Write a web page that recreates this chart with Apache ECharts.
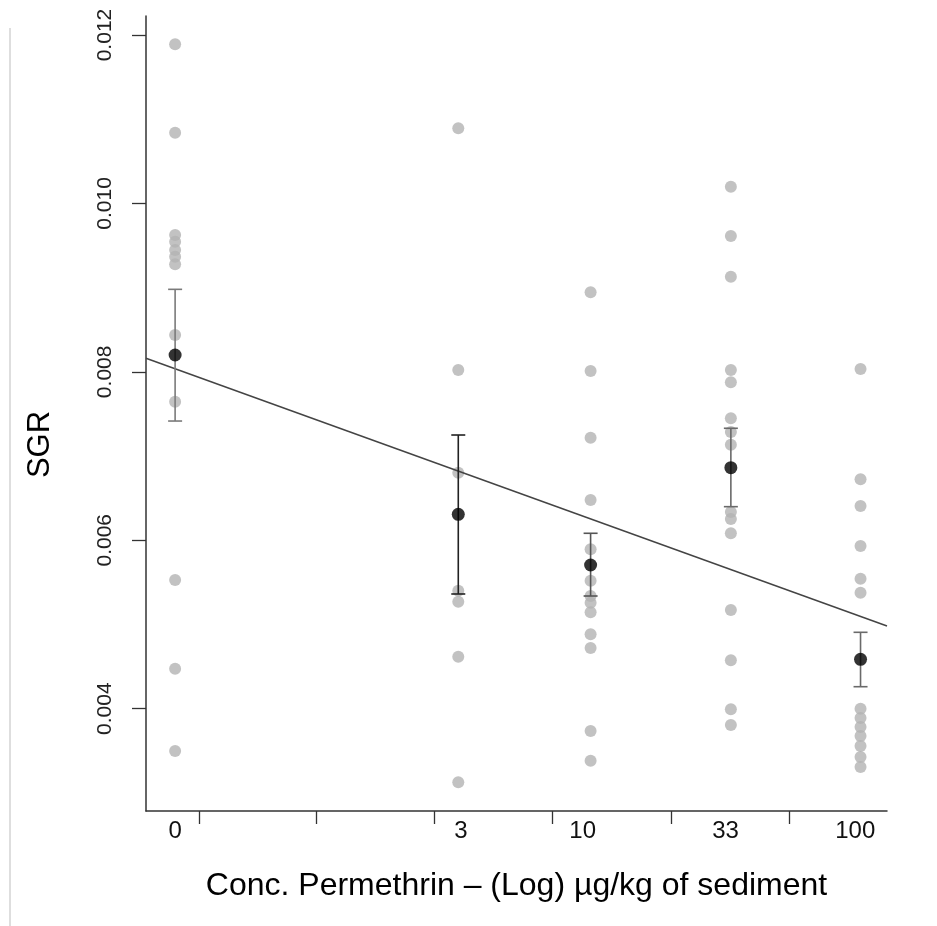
<!DOCTYPE html>
<html>
<head>
<meta charset="utf-8">
<script src="https://cdn.jsdelivr.net/npm/echarts@6/dist/echarts.min.js"></script>
<style>
html,body{margin:0;padding:0;background:#fff;}
#chart{width:937px;height:926px;}
</style>
</head>
<body>
<div id="chart"></div>
<script>
// ---- data ----
const concLabels = ['0', '3', '10', '33', '100'];
// plotting position of each concentration group on the (log) x scale
const colPos = [-0.59, 0.48, 0.98, 1.51, 2.0];
// positions of the tick labels and of the tick marks on the same scale
const labelPos = [-0.59, 0.49, 0.95, 1.49, 1.98];
const tickPos = [-0.50, -0.057, 0.389, 0.836, 1.283, 1.729];
const yTicks = [0.004, 0.006, 0.008, 0.010, 0.012];

const sgrConc0 = [0.01189, 0.01084, 0.009625, 0.009545, 0.009447, 0.009367, 0.009277, 0.008438, 0.007645, 0.005528, 0.004475, 0.003497];
const sgrConc3 = [0.010892, 0.008022, 0.006802, 0.005401, 0.00527, 0.004617, 0.003126];
const sgrConc10 = [0.008944, 0.00801, 0.007218, 0.006478, 0.005893, 0.00552, 0.005338, 0.005259, 0.005144, 0.004883, 0.004721, 0.003735, 0.003382];
const sgrConc33 = [0.010199, 0.009613, 0.00913, 0.008022, 0.007876, 0.007448, 0.007286, 0.007135, 0.006336, 0.006252, 0.006083, 0.005172, 0.004574, 0.003993, 0.003806];
const sgrConc100 = [0.008034, 0.006724, 0.006407, 0.005932, 0.005544, 0.005377, 0.004, 0.003889, 0.003782, 0.003676, 0.003557, 0.003426, 0.003307];

const meanSGR = [0.0082, 0.006308, 0.005706, 0.006862, 0.004586];
const errLow = [0.007416, 0.005362, 0.005338, 0.006399, 0.004261];
const errHigh = [0.00898, 0.00725, 0.006083, 0.00733, 0.004907];

const fitX = [-0.70, 2.10];
const fitY = [0.008161, 0.004982];

// ---- build series data from the arrays ----
const groups = [sgrConc0, sgrConc3, sgrConc10, sgrConc33, sgrConc100];
const rawPoints = [];
groups.forEach((g, i) => g.forEach(v => rawPoints.push([colPos[i], v])));
const meanPoints = meanSGR.map((m, i) => [colPos[i], m]);
const errData = meanSGR.map((m, i) => [colPos[i], errLow[i], errHigh[i], i]);
const fitData = fitX.map((x, i) => [x, fitY[i]]);
const errColors = ['#7a7a7a', '#222222', '#555555', '#6a6a6a', '#6a6a6a'];

const FONT = "'Liberation Sans', Arial, Helvetica, sans-serif";
const chart = echarts.init(document.getElementById('chart'), null, {renderer: 'canvas'});

const option = {
  backgroundColor: '#ffffff',
  animation: false,
  grid: {left: 146, right: 50, top: 16, bottom: 115, containLabel: false, outerBoundsMode: 'none'},
  xAxis: {
    type: 'value',
    min: -0.70,
    max: 2.10,
    name: 'Conc. Permethrin \u2013 (Log) \u00b5g/kg of sediment',
    nameLocation: 'middle',
    nameGap: 59,
    nameTextStyle: {fontSize: 32, color: '#000', fontFamily: FONT},
    axisLine: {show: true, onZero: false, lineStyle: {color: '#333', width: 1.5}},
    axisTick: {show: true, inside: false, length: 13, customValues: tickPos, lineStyle: {color: '#333', width: 1.3}},
    axisLabel: {
      show: true, margin: 8, fontSize: 24, color: '#111', fontFamily: FONT,
      customValues: labelPos,
      formatter: function (v) {
        let best = 0;
        labelPos.forEach((p, i) => { if (Math.abs(p - v) < Math.abs(labelPos[best] - v)) best = i; });
        return concLabels[best];
      }
    },
    splitLine: {show: false}
  },
  yAxis: {
    type: 'value',
    min: 0.0027849,
    max: 0.012226,
    name: 'SGR',
    nameLocation: 'middle',
    nameRotate: 90,
    nameGap: 90,
    nameTextStyle: {fontSize: 31, color: '#000', fontFamily: FONT, padding: [0, 62, 0, 0]},
    axisLine: {show: true, onZero: false, lineStyle: {color: '#333', width: 1.5}},
    axisTick: {show: true, inside: false, length: 14, customValues: yTicks, lineStyle: {color: '#333', width: 1.3}},
    axisLabel: {
      show: true, rotate: 90, margin: 30, fontSize: 21, color: '#222', fontFamily: FONT,
      customValues: yTicks,
      formatter: function (v) { return v.toFixed(3); }
    },
    splitLine: {show: false}
  },
  graphic: [{
    type: 'line', silent: true,
    shape: {x1: 10, y1: 28, x2: 10, y2: 926},
    style: {stroke: '#dedede', lineWidth: 2}
  }],
  series: [
    {
      type: 'scatter', name: 'SGR', data: rawPoints, symbol: 'circle', symbolSize: 12,
      itemStyle: {color: '#b3b3b3'}, z: 2
    },
    {
      type: 'line', name: 'fit', data: fitData, symbol: 'none',
      lineStyle: {color: '#444', width: 1.5}, z: 3
    },
    {
      type: 'custom', name: 'SE', data: errData, z: 4,
      renderItem: function (params, api) {
        const x = api.value(0);
        const top = api.coord([x, api.value(2)]);
        const bot = api.coord([x, api.value(1)]);
        const c = errColors[api.value(3)];
        const w = 7;
        const st = {stroke: c, lineWidth: 1.6};
        return {
          type: 'group',
          children: [
            {type: 'line', shape: {x1: top[0], y1: top[1], x2: bot[0], y2: bot[1]}, style: st},
            {type: 'line', shape: {x1: top[0] - w, y1: top[1], x2: top[0] + w, y2: top[1]}, style: st},
            {type: 'line', shape: {x1: bot[0] - w, y1: bot[1], x2: bot[0] + w, y2: bot[1]}, style: st}
          ]
        };
      }
    },
    {
      type: 'scatter', name: 'mean', data: meanPoints, symbol: 'circle', symbolSize: 13,
      itemStyle: {color: '#000'}, z: 5
    }
  ]
};
chart.setOption(option);
</script>
</body>
</html>
